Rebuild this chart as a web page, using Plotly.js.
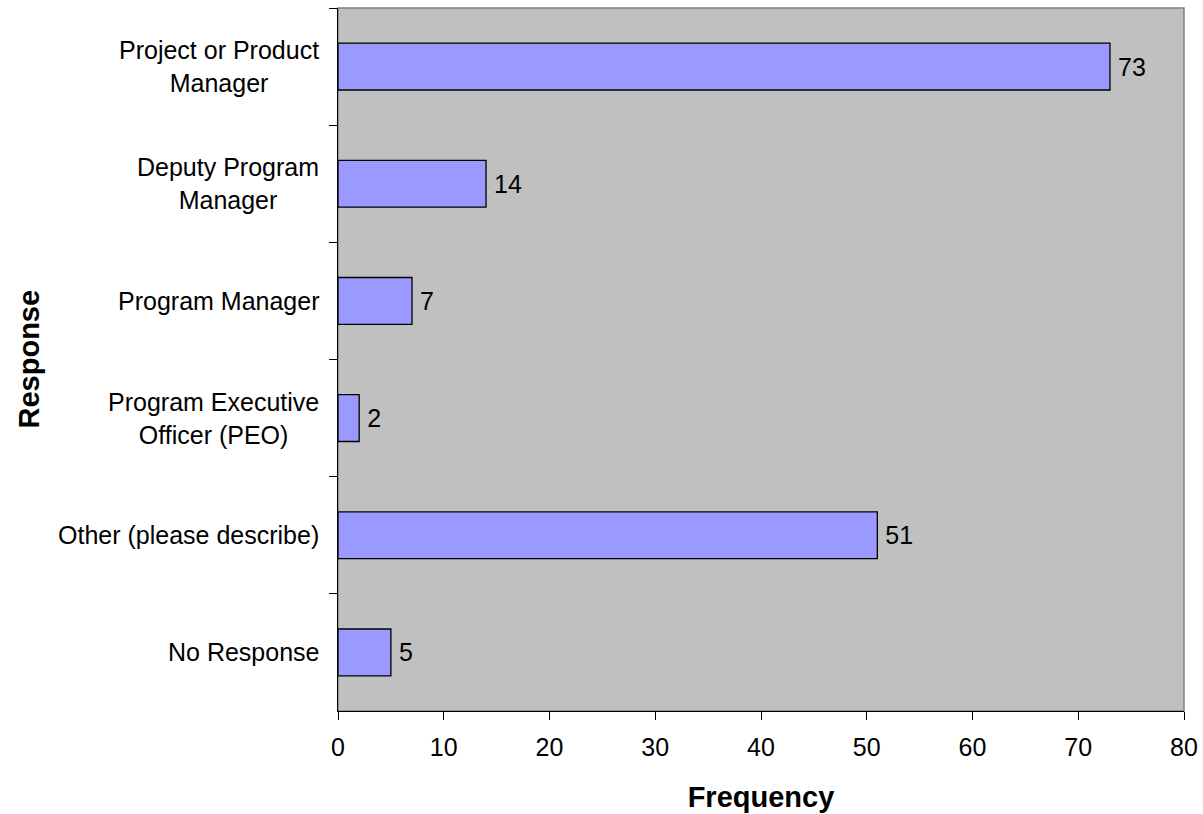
<!DOCTYPE html>
<html>
<head>
<meta charset="utf-8">
<script src="https://cdn.plot.ly/plotly-3.0.1.min.js"></script>
<style>html,body{margin:0;padding:0;background:#fff;}#chart{width:1203px;height:814px;}</style>
</head>
<body>
<div id="chart"></div>
<script>
const categories = [
  "Project or Product<br>Manager",
  "Deputy Program<br>Manager",
  "Program Manager",
  "Program Executive<br>Officer (PEO)",
  "Other (please describe)",
  "No Response"
];
const frequencies = [73, 14, 7, 2, 51, 5];
const xTitle = "Frequency";
const yTitle = "Response";

const font = "Arial, 'Liberation Sans', sans-serif";

const trace = {
  type: "bar",
  orientation: "h",
  x: frequencies,
  y: categories,
  width: 0.4,
  marker: {color: "#9999FF", line: {color: "#000000", width: 1.3}},
  text: frequencies.map(v => "\u2009" + v),
  textposition: "outside",
  textfont: {family: font, size: 25, color: "#000"},
  cliponaxis: false,
  hoverinfo: "skip"
};

const annotations = categories.map(c => ({
  x: 0, xref: "paper", y: c, yref: "y",
  text: c, showarrow: false, xanchor: "right", yanchor: "middle",
  align: "center", xshift: -17,
  font: {family: font, size: 25, color: "#000"}
}));

const layout = {
  width: 1203, height: 814,
  margin: {l: 338, r: 19, t: 8, b: 103},
  paper_bgcolor: "#ffffff",
  plot_bgcolor: "#C0C0C0",
  showlegend: false,
  bargap: 0.6,
  xaxis: {
    range: [0, 80], dtick: 10, tick0: 0,
    showgrid: false, zeroline: false,
    showline: true, linecolor: "#000", linewidth: 1,
    ticks: "outside", ticklen: 8, tickcolor: "#000",
    ticklabelstandoff: 6,
    tickfont: {family: font, size: 25, color: "#000"},
    title: {text: "<b>" + xTitle + "</b>", font: {family: font, size: 29, color: "#000"}, standoff: 26}
  },
  yaxis: {
    type: "category",
    autorange: "reversed",
    showgrid: false, zeroline: false,
    showline: true, linecolor: "#000", linewidth: 1,
    ticks: "outside", ticklen: 8, tickcolor: "#000",
    tickson: "boundaries",
    showticklabels: false,
    title: {text: ""}
  },
  shapes: [{
    type: "rect", xref: "paper", yref: "paper", x0: 0, x1: 1, y0: 0, y1: 1,
    line: {color: "#808080", width: 1.5}, layer: "below"
  }],
  annotations: annotations.concat([{
    x: 0, xref: "paper", xanchor: "center", xshift: -310,
    y: 0.5, yref: "paper", yanchor: "middle",
    text: "<b>" + yTitle + "</b>", textangle: -90, showarrow: false,
    font: {family: font, size: 29, color: "#000"}
  }])
};

Plotly.newPlot("chart", [trace], layout, {displayModeBar: false, staticPlot: true});
</script>
</body>
</html>
